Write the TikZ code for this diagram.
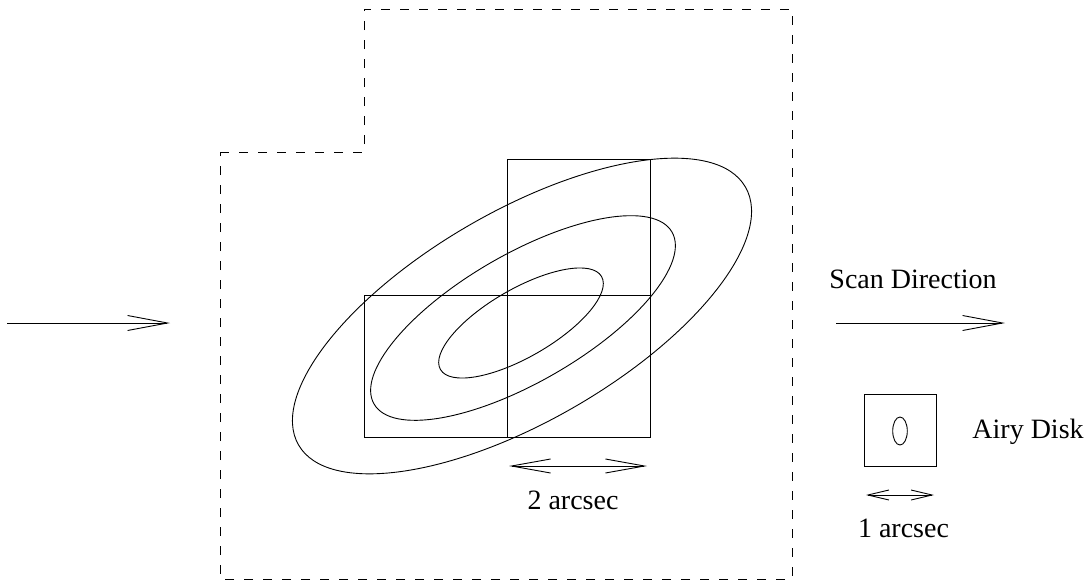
\documentclass[tikz,border=0pt]{standalone}
\usepackage{fontspec}
\setmainfont{Liberation Serif}
\usetikzlibrary{arrows.meta}
\begin{document}
\begin{tikzpicture}[x=1pt,y=1pt,line width=0.9pt,
  lbl/.style={inner sep=0pt,font=\fontsize{28}{34}\selectfont},
  bigarrow/.style={-{Straight Barb[length=40pt,width=15pt]}},
  dbl/.style={{Straight Barb[length=39pt,width=14pt]}-{Straight Barb[length=39pt,width=14pt]}},
  smalldbl/.style={{Straight Barb[length=21pt,width=10pt]}-{Straight Barb[length=21pt,width=10pt]}},
  outline/.style={dash pattern=on 9pt off 10pt}]
\useasboundingbox (0,0) rectangle (1090,-581);
% dashed field outline
\draw[outline] (220,-152) -- (364,-152) -- (364,-9) -- (792,-9) -- (792,-579) -- (220,-579) -- cycle;
% pixel boxes
\draw (364,-295) rectangle (507,-437);
\draw (507,-295) rectangle (650,-437);
\draw (507,-159) rectangle (650,-295);
% ellipses (isophotes)
\draw[rotate around={30:(522,-316)}] (522,-316) ellipse [x radius=258pt, y radius=105pt];
\draw[rotate around={30:(523,-318)}] (523,-318) ellipse [x radius=172pt, y radius=64pt];
\draw[rotate around={30:(521,-323)}] (521,-323) ellipse [x radius=93pt, y radius=34pt];
% left arrow
\coordinate (la1) at (7,-323);
\coordinate (la2) at (170,-323);
\draw[bigarrow] (la1) -- (la2);
% scan direction
\node[lbl,anchor=base west] (scan) at (829,-288) {Scan Direction};
\coordinate (sa1) at (836,-323);
\coordinate (sa2) at (1005,-323);
\draw[bigarrow] (sa1) -- (sa2);
% 2 arcsec
\coordinate (ta1) at (509,-466);
\coordinate (ta2) at (647,-466);
\draw[dbl] (ta1) -- (ta2);
\node[lbl,anchor=base] (two) at (573,-509) {2 arcsec};
% airy disk
\draw (864,-394) rectangle (936,-466);
\draw (900,-431) ellipse [x radius=7.3pt, y radius=14pt];
\node[lbl,anchor=base west] (airy) at (972,-438) {Airy Disk};
\coordinate (oa1) at (866,-495);
\coordinate (oa2) at (934,-495);
\draw[smalldbl] (oa1) -- (oa2);
\node[lbl,anchor=base] (one) at (903.5,-537) {1 arcsec};
\end{tikzpicture}
\end{document}
